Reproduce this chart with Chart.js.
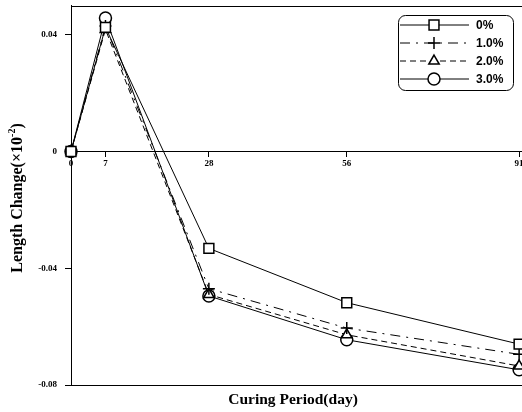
<!DOCTYPE html>
<html>
<head>
<meta charset="utf-8">
<script src="https://cdn.jsdelivr.net/npm/chart.js@4.4.1/dist/chart.umd.min.js"></script>
<style>
  html, body { margin: 0; padding: 0; background: #fff; overflow: hidden; }
  #wrap { width: 522px; height: 412px; overflow: hidden; }
  #grafico { display: block; margin-top: -3px; }
</style>
</head>
<body>
<div id="wrap"><canvas id="grafico" width="535" height="416"></canvas></div>
<script>
// dados
const days = [0, 7, 28, 56, 91];
const serie0 = [0, 0.0425, -0.0332, -0.0518, -0.0660];
const serie1 = [0, 0.0430, -0.0470, -0.0605, -0.0695];
const serie2 = [0, 0.0418, -0.0490, -0.0628, -0.0735];
const serie3 = [0, 0.0457, -0.0495, -0.0645, -0.0748];
const serieLabels = ['0%', '1.0%', '2.0%', '3.0%'];
const yTicks = [-0.08, -0.04, 0, 0.04];

// o canvas sobe 3px na pagina
const desloc = 3;

const estilos = [
    { dash: [], point: 'rect', radius: 7 },
    { dash: [10, 6, 2, 6], point: 'cross', radius: 6 },
    { dash: [6, 4], point: 'triangle', radius: 6 },
    { dash: [], point: 'circle', radius: 6 }
];

function desenharMarca(ctx, estilo, x, y) {
    const r = estilo.radius;
    ctx.beginPath();
    if (estilo.point == 'rect') {
        const s = r * Math.SQRT1_2;
        ctx.rect(x - s, y - s, 2 * s, 2 * s);
    } else if (estilo.point == 'cross') {
        ctx.moveTo(x - r, y); ctx.lineTo(x + r, y);
        ctx.moveTo(x, y - r); ctx.lineTo(x, y + r);
    } else if (estilo.point == 'triangle') {
        ctx.moveTo(x, y - r);
        ctx.lineTo(x + r * Math.sin(Math.PI * 2 / 3), y - r * Math.cos(Math.PI * 2 / 3));
        ctx.lineTo(x - r * Math.sin(Math.PI * 2 / 3), y - r * Math.cos(Math.PI * 2 / 3));
        ctx.closePath();
    } else {
        ctx.arc(x, y, r, 0, Math.PI * 2);
    }
    ctx.fillStyle = '#fff';
    if (estilo.point != 'cross') ctx.fill();
    ctx.stroke();
}

const molduraPlugin = {
    id: 'moldura',
    afterDraw(chart) {
        const ctx = chart.ctx;
        const area = chart.chartArea;
        ctx.save();
        ctx.strokeStyle = '#000';
        ctx.lineWidth = 1;
        ctx.setLineDash([]);
        ctx.beginPath();
        ctx.moveTo(area.left, Math.round(area.top) + 0.5);
        ctx.lineTo(area.right, Math.round(area.top) + 0.5);
        ctx.moveTo(area.left, Math.round(area.bottom) + 0.5);
        ctx.lineTo(area.right, Math.round(area.bottom) + 0.5);
        ctx.stroke();

        // titulo eixo y
        ctx.fillStyle = '#000';
        ctx.textBaseline = 'middle';
        const f1 = 'bold 16px "Liberation Serif", "Times New Roman", serif';
        const f2 = 'bold 10px "Liberation Serif", "Times New Roman", serif';
        const p1 = 'Length Change(\u00d710', p2 = '-2', p3 = ')';
        ctx.font = f1;
        const w1 = ctx.measureText(p1).width, w3 = ctx.measureText(p3).width;
        ctx.font = f2;
        const w2 = ctx.measureText(p2).width;
        const total = w1 + w2 + w3;
        ctx.save();
        ctx.translate(18, 198 + desloc);
        ctx.rotate(-Math.PI / 2);
        ctx.textAlign = 'left';
        ctx.font = f1;
        ctx.fillText(p1, -total / 2, 0);
        ctx.font = f2;
        ctx.fillText(p2, -total / 2 + w1, -6);
        ctx.font = f1;
        ctx.fillText(p3, -total / 2 + w1 + w2, 0);
        ctx.restore();

        // titulo eixo x
        ctx.font = 'bold 15.5px "Liberation Serif", "Times New Roman", serif';
        ctx.textAlign = 'center';
        ctx.fillText('Curing Period(day)', 293, 400 + desloc);

        // legenda
        const lx = 398.5, ly = 15.5 + desloc, lw = 115, lh = 75;
        ctx.beginPath();
        ctx.roundRect(lx, ly, lw, lh, 7);
        ctx.fillStyle = '#fff';
        ctx.fill();
        ctx.stroke();
        ctx.font = 'bold 12px "Liberation Sans", Arial, sans-serif';
        ctx.textAlign = 'left';
        serieLabels.forEach(function (label, i) {
            const y = 25 + desloc + i * 18;
            const e = estilos[i];
            ctx.strokeStyle = '#000';
            ctx.lineWidth = 1;
            ctx.setLineDash(e.dash);
            ctx.beginPath();
            ctx.moveTo(400, y);
            ctx.lineTo(469, y);
            ctx.stroke();
            ctx.setLineDash([]);
            ctx.lineWidth = 1.5;
            desenharMarca(ctx, { point: e.point, radius: e.point == 'rect' ? 7 : 6 }, 434, y);
            ctx.fillStyle = '#000';
            ctx.fillText(label, 476, y + 1);
        });
        ctx.restore();
    }
};

const series = [serie0, serie1, serie2, serie3];
const fonteTick = { family: '"Liberation Serif", "Times New Roman", serif', size: 9, weight: 'bold' };

new Chart(document.getElementById('grafico'), {
    type: 'line',
    data: {
        labels: days,
        datasets: series.map(function (s, i) {
            return {
                label: serieLabels[i],
                data: days.map(function (d, j) { return { x: d, y: s[j] }; }),
                borderColor: '#000',
                borderWidth: 1,
                borderDash: estilos[i].dash,
                pointStyle: estilos[i].point,
                pointRadius: estilos[i].radius,
                pointBorderWidth: 1.5,
                pointBorderColor: '#000',
                pointBackgroundColor: '#fff',
                fill: false,
                tension: 0,
                clip: false
            };
        })
    },
    options: {
        responsive: false,
        animation: false,
        layout: { padding: { left: 0, right: 0, top: 1, bottom: 28 } },
        plugins: { legend: { display: false }, tooltip: { enabled: false } },
        scales: {
            x: {
                type: 'linear',
                min: 0,
                max: 92.5,
                position: { y: 0 },
                afterBuildTicks: function (scale) {
                    scale.ticks = days.map(function (v) { return { value: v }; });
                },
                afterFit: function (scale) {
                    scale.paddingTop = 0;
                    scale.paddingBottom = 0;
                },
                grid: { drawOnChartArea: false, drawTicks: true, tickLength: 5, color: '#000' },
                border: { display: true, color: '#000', width: 1 },
                ticks: { color: '#000', font: fonteTick, padding: 2, maxRotation: 0, autoSkip: false }
            },
            y: {
                min: -0.08,
                max: 0.05,
                afterBuildTicks: function (scale) {
                    scale.ticks = yTicks.map(function (v) { return { value: v }; });
                },
                afterFit: function (scale) {
                    scale.width = 71;
                    scale.paddingTop = 0;
                    scale.paddingBottom = 0;
                },
                grid: { drawOnChartArea: false, drawTicks: true, tickLength: 6, color: '#000' },
                border: { display: true, color: '#000', width: 1 },
                ticks: {
                    color: '#000',
                    font: fonteTick,
                    padding: 8,
                    callback: function (v) { return v === 0 ? '0' : v.toFixed(2); }
                }
            }
        }
    },
    plugins: [molduraPlugin]
});
</script>
</body>
</html>
